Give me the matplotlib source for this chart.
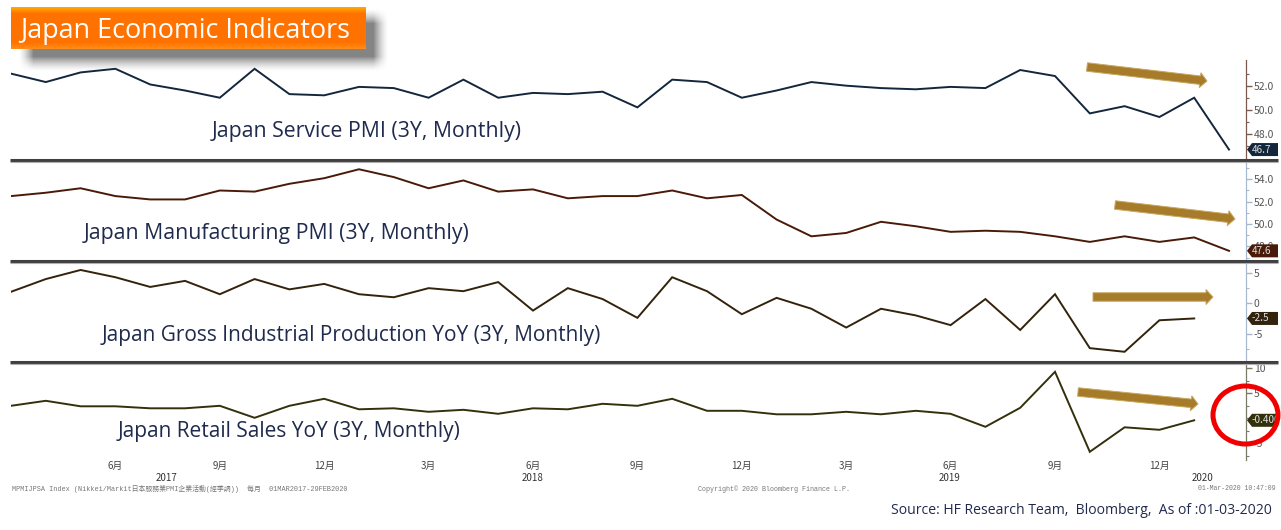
import numpy as np
import matplotlib
matplotlib.use('Agg')
import matplotlib.pyplot as plt
from matplotlib.patches import Ellipse, FancyArrow, Polygon

W, H = 1281, 530

# monthly, Mar 2017 .. Feb 2020
service_pmi = [53.0, 52.3, 53.1, 53.4, 52.1, 51.6, 51.0, 53.4, 51.3, 51.2, 51.9, 51.8,
               51.0, 52.5, 51.0, 51.4, 51.3, 51.5, 50.2, 52.5, 52.3, 51.0, 51.6, 52.3,
               52.0, 51.8, 51.7, 51.9, 51.8, 53.3, 52.8, 49.7, 50.3, 49.4, 51.0, 46.7]
manuf_pmi = [52.5, 52.8, 53.2, 52.5, 52.2, 52.2, 53.0, 52.9, 53.6, 54.1, 54.9, 54.2,
             53.2, 53.9, 52.9, 53.1, 52.3, 52.5, 52.5, 53.0, 52.3, 52.6, 50.4, 48.9,
             49.2, 50.2, 49.8, 49.3, 49.4, 49.3, 48.9, 48.4, 48.9, 48.4, 48.8, 47.6]
ind_prod = [1.9, 4.0, 5.5, 4.3, 2.7, 3.7, 1.5, 4.0, 2.3, 3.2, 1.5, 1.0,
            2.5, 2.0, 3.5, -1.2, 2.5, 0.7, -2.4, 4.3, 2.0, -1.8, 0.9, -0.9,
            -4.0, -0.9, -2.0, -3.6, 0.7, -4.4, 1.5, -7.4, -8.0, -2.8, -2.5]
retail = [2.5, 3.5, 2.4, 2.4, 2.0, 2.0, 2.5, 0.1, 2.5, 3.9, 1.8, 2.0,
          1.3, 1.7, 0.9, 2.0, 1.8, 2.9, 2.5, 3.9, 1.5, 1.5, 0.8, 0.8,
          1.3, 0.8, 1.5, 0.9, -1.7, 2.1, 9.3, -6.7, -1.8, -2.3, -0.4]

month_pos = [3, 6, 9, 12, 15, 18, 21, 24, 27, 30, 33]
month_labels = ['6月', '9月', '12月', '3月', '6月', '9月', '12月', '3月', '6月', '9月', '12月']

def px_axes(fig, x0, x1, y0, y1, **kw):
    return fig.add_axes([x0 / W, 1 - y1 / H, (x1 - x0) / W, (y1 - y0) / H], **kw)

panels = [
    dict(vals=service_pmi, box=(60, 158), ylim=(46.0, 54.13), major=[48, 50, 52], minor=[47, 49, 51, 53],
         fmt='%.1f', color='#14263c', spine='#7a5a50', badge='46.7', name_size=15.35,
         name='Japan Service PMI (3Y, Monthly)', name_xy=(212, 132), arrow=(1087, 67, 1207, 81)),
    dict(vals=manuf_pmi, box=(161, 260), ylim=(46.78, 55.64), major=[48, 50, 52, 54], minor=[47, 49, 51, 53, 55],
         fmt='%.1f', color='#4a1a08', spine='#a8b8d0', badge='47.6', name_size=15.3,
         name='Japan Manufacturing PMI (3Y, Monthly)', name_xy=(84, 234), arrow=(1115, 205, 1235, 219)),
    dict(vals=ind_prod, box=(263, 361), ylim=(-9.52, 6.65), major=[-5, 0, 5], minor=[-7.5, -2.5, 2.5],
         fmt='%d', color='#33220c', spine='#a8b8d0', badge='-2.5', name_size=15.0,
         name='Japan Gross Industrial Production YoY (3Y, Monthly)', name_xy=(102, 336), arrow=(1093, 297, 1213, 297)),
    dict(vals=retail, box=(364, 460), ylim=(-8.34, 10.86), major=[-5, 0, 5, 10], minor=[-7.5, -2.5, 2.5, 7.5],
         fmt='%d', color='#33300c', spine='#7a7a68', badge='-0.400', name_size=15.05,
         name='Japan Retail Sales YoY (3Y, Monthly)', name_xy=(118, 432), arrow=(1078, 392, 1198, 404)),
]

plt.rcParams['font.family'] = ['Noto Sans CJK SC', 'DejaVu Sans']
fig = plt.figure(figsize=(W / 100, H / 100), dpi=100)

axes = []
for p in panels:
    ax = px_axes(fig, 11, 1245.5, p['box'][0], p['box'][1])
    ax.plot(range(len(p['vals'])), p['vals'], color=p['color'], lw=1.4, solid_joinstyle='miter')
    ax.set_xlim(0, (1245.5 - 11) / 34.8)
    ax.set_ylim(p['ylim'])
    ax.yaxis.tick_right()
    ax.set_yticks(p['major'])
    ax.set_yticklabels([p['fmt'] % v for v in p['major']])
    ax.set_yticks(p['minor'], minor=True)
    ax.tick_params(axis='y', which='major', length=4, width=1, color=p['spine'], labelsize=7.5,
                   labelcolor='#555555', pad=2)
    ax.tick_params(axis='y', which='minor', length=2, width=0.8, color=p['spine'])
    ax.set_xticks([])
    for s in ['top', 'left', 'bottom']:
        ax.spines[s].set_visible(False)
    ax.spines['right'].set_color(p['spine'])
    ax.spines['right'].set_linewidth(0.9)
    axes.append(ax)

bottom = axes[-1]
bottom.set_xticks(month_pos)
bottom.set_xticklabels(month_labels)
bottom.tick_params(axis='x', length=0, pad=1, labelsize=7, labelcolor='#444444')

# overlay in picture pixels for the annotations
ov = fig.add_axes([0, 0, 1, 1], zorder=10)
ov.patch.set_alpha(0)
ov.axis('off')

# title shadow
xx, yy = np.meshgrid(np.arange(0, 420), np.arange(0, 90))
blur = 15.0
def ramp(a):
    return np.clip(a / blur, 0, 1) ** 1.5
mask = ramp(xx - 18) * ramp(388 - xx) * ramp(yy - 8) * ramp(71 - yy)
shadow = np.zeros(mask.shape + (4,))
shadow[..., :3] = 0.4
shadow[..., 3] = mask * 0.8
ov.imshow(shadow, extent=(0, 420, 90, 0), interpolation='bilinear', aspect='auto', zorder=1)

# title box with bevelled gradient
bh, bw = 42, 355
top_c = np.array([1.0, 0.66, 0.0])
mid_c = np.array([1.0, 0.45, 0.0])
bot_c = np.array([1.0, 0.55, 0.08])
grad = np.zeros((bh, bw, 3))
grad[:] = mid_c
for i in range(6):
    grad[i, :] = top_c + (mid_c - top_c) * i / 6
    grad[bh - 1 - i, :] = bot_c + (mid_c - bot_c) * i / 6
ov.imshow(grad, extent=(11, 366, 49.5, 7.5), interpolation='bilinear', aspect='auto', zorder=2)
ov.text(20, 31, 'Japan Economic Indicators', family='Open Sans', fontsize=19.4, color='white',
        va='center', ha='left', zorder=3)

# panel separators
for y in [159.5, 261, 362]:
    ov.plot([10, 1278], [y, y], color='#404040', lw=2.2, solid_capstyle='butt', zorder=4)
    ov.plot([10, 1278], [y + 2, y + 2], color='#b0b0b0', lw=0.8, solid_capstyle='butt', zorder=4)

for p, ax in zip(panels, axes):
    ov.text(p['name_xy'][0], p['name_xy'][1], p['name'], family='Open Sans', fontsize=p['name_size'],
            color='#1f2a4d', va='center', ha='left', zorder=5)
    x0, y0, x1, y1 = p['arrow']
    ov.add_patch(FancyArrow(x0, y0, x1 - x0, y1 - y0, width=8.5, head_width=15, head_length=7,
                            length_includes_head=True, facecolor='#a67c2a', edgecolor='#c9a860',
                            linewidth=0.7, zorder=6))
    # value badge at the last value
    yb = H - ax.transData.transform((0, p['vals'][-1]))[1]
    ov.add_patch(Polygon([(1247, yb), (1252, yb - 6.5), (1278, yb - 6.5), (1278, yb + 6.5), (1252, yb + 6.5)],
                         closed=True, facecolor=p['color'], edgecolor='none', zorder=6))
    ov.text(1252, yb, p['badge'], fontsize=7.2, color='#dddddd', va='center', ha='left', zorder=7)

# year labels
for x, year in [(167, '2017'), (533, '2018'), (950, '2019'), (1203, '2020')]:
    ov.text(x, 478, year, fontsize=7, color='#333333', ha='center', va='center', zorder=5)

# footer
foot = ['Liberation Mono', 'Noto Sans CJK TC']
ov.text(12, 489, 'MPMIJPSA Index (Nikkei/Markit日本服務業PMI企業活動(經季調))  每月  01MAR2017-29FEB2020',
        family=foot, fontsize=4.95, color='#777777', va='center', ha='left', zorder=5)
ov.text(698, 489, 'Copyright© 2020 Bloomberg Finance L.P.', family=foot, fontsize=4.8,
        color='#777777', va='center', ha='left', zorder=5)
ov.text(1198, 489, '01-Mar-2020 10:47:09', family=foot, fontsize=4.7, color='#777777',
        va='center', ha='left', zorder=5)
ov.text(891, 510, 'Source: HF Research Team,  Bloomberg,  As of :01-03-2020', family='Open Sans',
        fontsize=10.1, color='#1f2a4d', va='center', ha='left', zorder=5)

ov.add_patch(Ellipse((1245.5, 415), 65, 58, fill=False, edgecolor='#f00000', linewidth=3.6, zorder=8))

ov.set_xlim(0, W)
ov.set_ylim(H, 0)

fig.savefig('out.png', dpi=100)
